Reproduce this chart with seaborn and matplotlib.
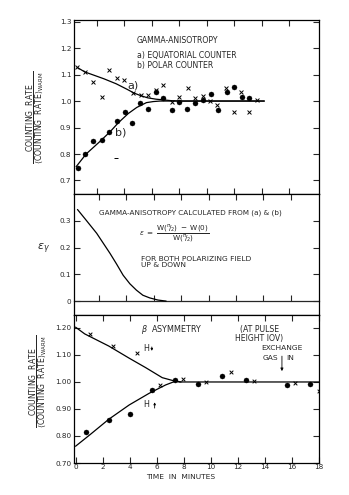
import matplotlib
matplotlib.use("Agg")
import matplotlib.pyplot as plt
import seaborn as sns
import numpy as np

sns.set_style("ticks")
plt.rcParams['font.family'] = ['DejaVu Sans']
plt.rcParams['mathtext.fontset'] = 'dejavusans'

# ---------------- data: panel 1 (gamma anisotropy) ----------------
eq_time = [0.56, 1.12, 1.69, 2.34, 2.9, 3.44, 4.0, 4.65, 5.19, 5.74, 6.3, 6.84,
           7.45, 7.99, 8.6, 9.15, 9.71, 10.25, 10.78, 11.4, 12.0, 12.5, 13.1, 13.66]
eq_rate = [1.127, 1.108, 1.073, 1.014, 1.117, 1.086, 1.079, 1.029, 1.023, 1.023, 1.04, 1.06,
           0.997, 1.016, 1.048, 1.01, 1.019, 1.001, 0.985, 1.048, 0.96, 1.033, 0.96, 1.004]
pol_time = [0.6, 1.12, 1.73, 2.34, 2.9, 3.48, 4.04, 4.55, 5.14, 5.74, 6.3, 6.84,
            7.45, 7.99, 8.55, 9.15, 9.71, 10.3, 10.85, 11.47, 12.0, 12.56, 13.1]
pol_rate = [0.746, 0.80, 0.85, 0.853, 0.884, 0.926, 0.957, 0.916, 0.991, 0.969, 1.035, 1.012,
            0.966, 0.997, 0.969, 0.994, 1.004, 1.025, 0.966, 1.035, 1.054, 1.016, 1.01]
stray_time = [3.39]
stray_rate = [0.784]
curve_a_t = [0.55, 1.1, 1.8, 2.5, 3.4, 4.2, 4.7, 5.2, 5.7, 6.3, 6.9, 7.5, 8.2, 14.2]
curve_a_v = [1.127, 1.11, 1.097, 1.084, 1.065, 1.044, 1.03, 1.02, 1.012, 1.007, 1.004, 1.001, 1.0, 1.0]
curve_b_t = [0.47, 1.2, 2.2, 2.95, 3.55, 4.28, 4.9, 5.6, 6.1, 6.6, 14.2]
curve_b_v = [0.752, 0.80, 0.847, 0.884, 0.918, 0.953, 0.976, 0.994, 0.998, 1.0, 1.0]

# ---------------- data: panel 2 (epsilon) ----------------
eps_t = [0.43, 1.0, 1.83, 2.8, 3.28, 3.76, 4.25, 4.73, 5.2, 5.7, 6.3, 6.9]
eps_v = [0.343, 0.307, 0.254, 0.179, 0.139, 0.097, 0.065, 0.041, 0.022, 0.012, 0.004, 0.0]

# ---------------- data: panel 3 (beta asymmetry) ----------------
hdn_time = [0.76, 2.46, 4.27, 5.92, 7.68, 9.38, 11.16, 12.9, 15.9, 17.67]
hdn_rate = [1.178, 1.133, 1.106, 0.99, 1.01, 1.0, 1.036, 1.005, 0.995, 0.968]
hup_time = [0.76, 2.46, 4.02, 5.68, 7.34, 9.04, 10.85, 12.58, 15.67, 17.37]
hup_rate = [0.816, 0.859, 0.881, 0.970, 1.006, 0.991, 1.022, 1.006, 0.989, 0.994]
curve_dn_t = [0.0, 0.68, 2.46, 3.97, 5.19, 6.41, 7.14, 7.7, 18.0]
curve_dn_v = [1.203, 1.178, 1.133, 1.088, 1.053, 1.016, 1.006, 1.0, 1.0]
curve_up_t = [0.0, 1.05, 2.46, 3.97, 5.44, 6.66, 7.39, 7.8]
curve_up_v = [0.762, 0.804, 0.862, 0.915, 0.958, 0.989, 1.003, 1.0]

xtick_vals = [0, 2, 4, 6, 8, 10, 12, 14, 16, 18]
inner_xticks = [2, 4, 6, 8, 10, 12, 14, 16]
p1_yticks = [0.7, 0.8, 0.9, 1.0, 1.1, 1.2, 1.3]
p1_ylabels = ["0.7", "0.8", "0.9", "1.0", "1.1", "1.2", "1.3"]
p2_yticks = [0, 0.1, 0.2, 0.3]
p2_ylabels = ["0", "0.1", "0.2", "0.3"]
p3_yticks = [0.7, 0.8, 0.9, 1.0, 1.1, 1.2]
p3_ylabels = ["0.70", "0.80", "0.90", "1.00", "1.10", "1.20"]

W, H = 349, 495
fig = plt.figure(figsize=(W / 100, H / 100), dpi=100)
fig.patch.set_facecolor('white')

left_px, right_px = 73.5, 319.0


def add_ax(top, bottom):
    return fig.add_axes([left_px / W, 1 - bottom / H, (right_px - left_px) / W, (bottom - top) / H])


ax1 = add_ax(20, 194)
ax2 = add_ax(194, 315)
ax3 = add_ax(315, 463)

FS = 5.2
for ax in (ax1, ax2, ax3):
    for s in ax.spines.values():
        s.set_linewidth(0.9)
        s.set_color('k')
    ax.set_facecolor('white')

# ---------- panel 1 ----------
sns.lineplot(x=curve_a_t, y=curve_a_v, ax=ax1, color='k', lw=0.9, sort=False, estimator=None)
sns.lineplot(x=curve_b_t, y=curve_b_v, ax=ax1, color='k', lw=0.9, sort=False, estimator=None)
sns.scatterplot(x=pol_time, y=pol_rate, ax=ax1, marker='o', s=13, color='k', edgecolor='k', linewidth=0.3, zorder=3)
sns.scatterplot(x=eq_time, y=eq_rate, ax=ax1, marker='x', s=8, color='k', linewidth=0.7, zorder=3)
sns.scatterplot(x=stray_time, y=stray_rate, ax=ax1, marker='_', s=8, color='k', linewidth=0.7, zorder=3)
ax1.set_xlim(0.28, 18.19)
ax1.set_ylim(0.649, 1.306)
ax1.set_yticks(p1_yticks)
ax1.set_yticklabels(p1_ylabels)
ax1.set_xticks(inner_xticks)
ax1.set_xticklabels([])
ax1.tick_params(axis='x', direction='in', top=True, bottom=True, length=4, width=0.8)
ax1.tick_params(axis='y', direction='in', right=True, left=True, length=4, width=0.8, labelsize=FS, pad=1.5)
ax1.text(4.92, 1.23, "GAMMA-ANISOTROPY", fontsize=5.6, va='center', ha='left')
ax1.text(4.92, 1.173, "a) EQUATORIAL COUNTER", fontsize=5.6, va='center', ha='left')
ax1.text(4.92, 1.136, "b) POLAR COUNTER", fontsize=5.6, va='center', ha='left')
ax1.text(4.65, 1.057, "a)", fontsize=8, va='center', ha='center')
ax1.text(3.72, 0.88, "b)", fontsize=8, va='center', ha='center')

# ---------- panel 2 ----------
sns.lineplot(x=eps_t, y=eps_v, ax=ax2, color='k', lw=0.9, sort=False, estimator=None)
ax2.set_xlim(0.14, 18.05)
ax2.set_ylim(-0.052, 0.401)
ax2.set_yticks(p2_yticks)
ax2.set_yticklabels(p2_ylabels)
ax2.set_xticks(inner_xticks)
ax2.set_xticklabels([])
ax2.tick_params(axis='x', direction='in', top=True, bottom=False, length=4, width=0.8)
ax2.tick_params(axis='y', direction='in', right=True, left=True, length=4, width=0.8, labelsize=FS, pad=1.5)
y0, y1 = ax2.get_ylim()
sec = ax2.secondary_xaxis((0 - y0) / (y1 - y0))
sec.set_xticks(inner_xticks)
sec.set_xticklabels([])
sec.tick_params(axis='x', direction='in', length=4, width=0.8)
sec.spines['bottom'].set_linewidth(0.9)
ax2.text(2.02, 0.331, "GAMMA-ANISOTROPY CALCULATED FROM (a) & (b)", fontsize=5.2, va='center', ha='left')
ax2.text(4.95, 0.252, r"$\epsilon\ =\ \dfrac{\mathrm{W}(^{\pi}\!/\!_{2})\ -\ \mathrm{W(0)}}{\mathrm{W}(^{\pi}\!/\!_{2})}$",
         fontsize=5.2, va='center', ha='left')
ax2.text(5.06, 0.148, "FOR BOTH POLARIZING FIELD\nUP & DOWN", fontsize=5.4, va='center', ha='left',
         linespacing=1.0)
ax2.text((43 - left_px) / (right_px - left_px), 0.55, r"$\epsilon_{\gamma}$", fontsize=8,
         transform=ax2.transAxes, va='center', ha='center')

# ---------- panel 3 ----------
sns.lineplot(x=curve_dn_t, y=curve_dn_v, ax=ax3, color='k', lw=0.9, sort=False, estimator=None)
sns.lineplot(x=curve_up_t, y=curve_up_v, ax=ax3, color='k', lw=0.9, sort=False, estimator=None)
sns.scatterplot(x=hup_time, y=hup_rate, ax=ax3, marker='o', s=13, color='k', edgecolor='k', linewidth=0.3, zorder=3)
sns.scatterplot(x=[t + 0.3 for t in hdn_time], y=hdn_rate, ax=ax3, marker='x', s=7, color='k', linewidth=0.7, zorder=3)
ax3.set_xlim(-0.15, 18.0)
ax3.set_ylim(0.70, 1.248)
ax3.set_yticks(p3_yticks)
ax3.set_yticklabels(p3_ylabels)
ax3.set_xticks(xtick_vals)
ax3.set_xticklabels([str(v) for v in xtick_vals])
ax3.tick_params(axis='x', direction='in', top=True, bottom=True, length=4, width=0.8, labelsize=FS, pad=0.8)
ax3.tick_params(axis='y', direction='in', right=True, left=True, length=4, width=0.8, labelsize=FS, pad=1.5)
ax3.text(4.83, 1.193, r"$\beta$  ASYMMETRY", fontsize=5.8, va='center', ha='left')
ax3.text(13.6, 1.177, "(AT PULSE\nHEIGHT IOV)", fontsize=5.6, va='center', ha='center', linespacing=1.0)
ax3.text(15.26, 1.124, "EXCHANGE", fontsize=5.4, va='center', ha='center')
ax3.text(14.98, 1.090, "GAS", fontsize=5.4, va='center', ha='right')
ax3.text(15.55, 1.090, "IN", fontsize=5.4, va='center', ha='left')
ax3.annotate('', xy=(15.26, 1.030), xytext=(15.26, 1.106),
             arrowprops=dict(arrowstyle='-|>', lw=0.6, color='k', mutation_scale=4))
ax3.text(5.2, 1.125, "H", fontsize=5.8, va='center', ha='center')
ax3.annotate('', xy=(5.64, 1.105), xytext=(5.64, 1.140),
             arrowprops=dict(arrowstyle='-|>', lw=0.6, color='k', mutation_scale=3))
ax3.text(5.24, 0.915, "H", fontsize=5.8, va='center', ha='center')
ax3.annotate('', xy=(5.85, 0.935), xytext=(5.85, 0.893),
             arrowprops=dict(arrowstyle='-|>', lw=0.6, color='k', mutation_scale=3))
ax3.text(7.76, -0.092, "TIME  IN  MINUTES", fontsize=5.4, transform=ax3.get_xaxis_transform(),
         va='center', ha='center')

# fraction y labels
frac = r"$\dfrac{\mathrm{COUNTING\ \ RATE}}{\langle\mathrm{COUNTING\ \ RATE}\rangle_{\mathrm{WARM}}}$"
fig.text(35 / W, 1 - 117 / H, frac, rotation=90, fontsize=5.6, va='center', ha='center')
fig.text(38 / W, 1 - 381 / H, frac, rotation=90, fontsize=5.6, va='center', ha='center')

fig.savefig("out.png", dpi=100, facecolor='white')
